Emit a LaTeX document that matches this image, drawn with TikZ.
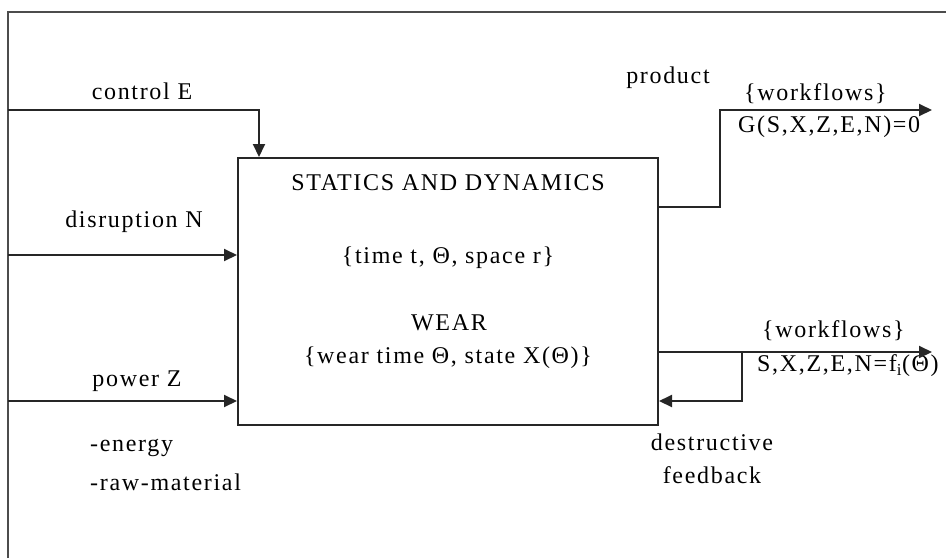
\documentclass[tikz,border=0pt]{standalone}
\usepackage{fontspec}
\setmainfont{Liberation Serif}[LetterSpace=7]
\usepackage{tikz}
\usetikzlibrary{arrows.meta,positioning}
\tikzset{
  wline/.style={line width=2pt, draw=black!85},
  warrow/.style={wline, -{Triangle[length=13pt,width=12pt]}},
  wframe/.style={line width=1.4pt, draw=black!70},
  wbox/.style={rectangle, draw=black!85, line width=2pt, minimum width=420pt, minimum height=267pt, inner sep=0pt},
  wtext/.style={font=\fontsize{24}{33}\selectfont, inner sep=0pt}
}
\begin{document}
\begin{tikzpicture}[x=1pt,y=-1pt]
\useasboundingbox (0,0) rectangle (946,558);
\draw[wframe] (8,558) -- (8,12) -- (946,12);

\node[wbox] (sys) at (448,291.5) {};
\node[wtext, below=17pt of sys.north] (t1) {STATICS AND DYNAMICS};
\node[wtext] (t2) at (448,258) {\{time t, Θ, space r\}};
\node[wtext] (t3) at (449,323) {WEAR};
\node[wtext] (t4) at (448,358) {\{wear time Θ, state X(Θ)\}};

\coordinate (ce) at (8,110);
\coordinate (dn) at (8,255);
\coordinate (pz) at (8,401);
\node[wtext] (lce) at (142,91) {control E};
\node[wtext] (ldn) at (134,222) {disruption N};
\node[wtext] (lpz) at (137,381) {power Z};
\node[wtext, anchor=west] (len) at (90,448) {-energy};
\node[wtext, anchor=west] (lrm) at (90,482) {-raw-material};
\draw[warrow] (ce) -| ([xshift=22pt]sys.north west);
\draw[warrow] (dn) -- (sys.west |- dn);
\draw[warrow] (pz) -- (sys.west |- pz);

\coordinate (pknee) at (720,207);
\coordinate (ptip) at (932,110);
\node[wtext] (lpr) at (668,78) {product};
\node[wtext, anchor=west] (lw1) at (744,94) {\{workflows\}};
\node[wtext, anchor=west] (lg) at (738,127) {G(S,X,Z,E,N)=0};
\draw[warrow] (sys.east |- pknee) -- (pknee) |- (ptip);

\coordinate (wtip) at (932,352);
\coordinate (fbk) at (742,352);
\coordinate (fbend) at (742,401);
\node[wtext, anchor=west] (lw2) at (762,331) {\{workflows\}};
\node[wtext, anchor=west] (lf) at (757,366) {S,X,Z,E,N=f\textsubscript{i}(Θ)};
\node[wtext] (lds) at (712,442) {destructive};
\node[wtext] (lfb) at (712,475) {feedback};
\draw[warrow] (sys.east |- wtip) -- (wtip);
\draw[warrow] (fbk) -- (fbend) -- (sys.east |- fbend);
\end{tikzpicture}
\end{document}
